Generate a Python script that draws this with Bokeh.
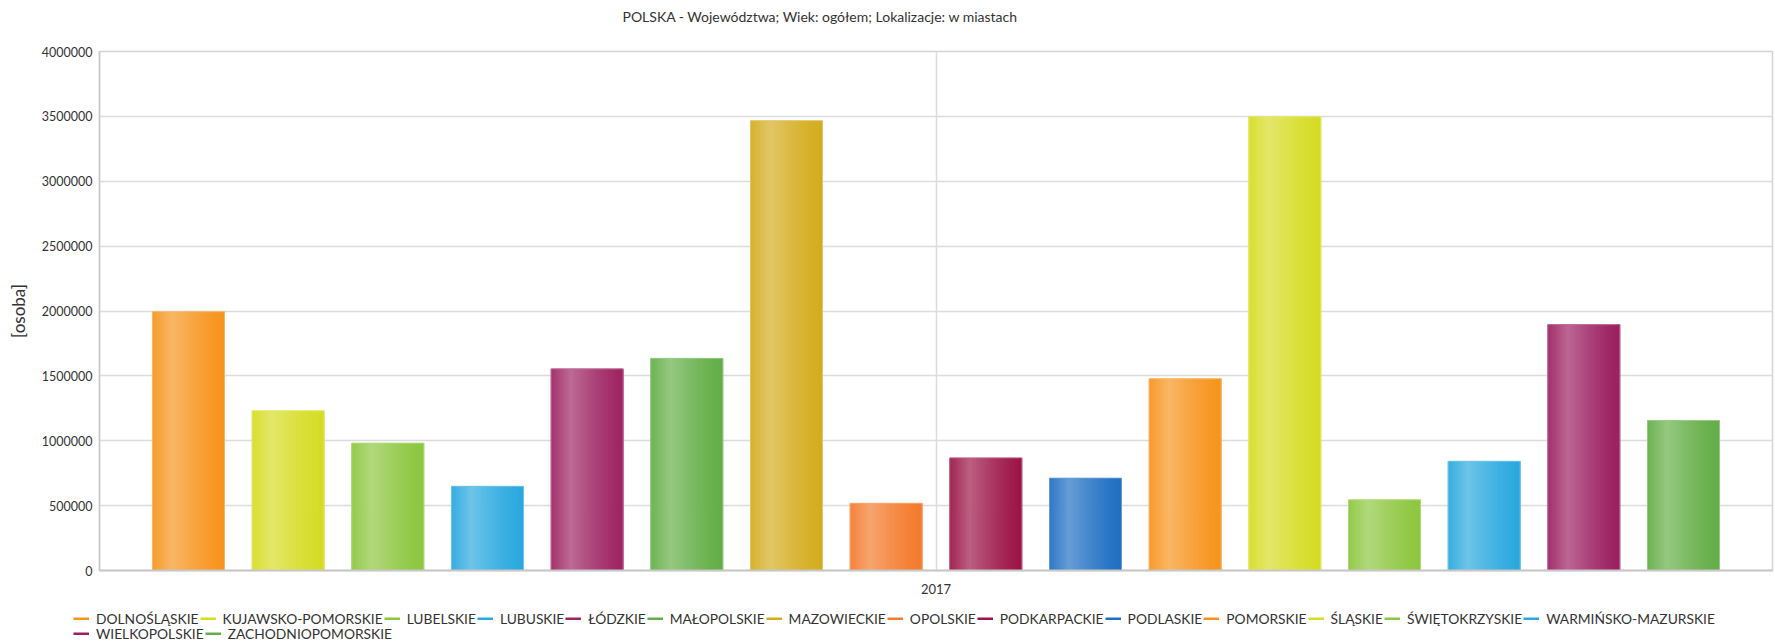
from bokeh.plotting import figure
from bokeh.layouts import column
from bokeh.models import (Range1d, FixedTicker, ColumnDataSource, Legend, LegendItem,
                          BasicTickFormatter, SingleIntervalTicker, Title)
from bokeh.embed import file_html
from bokeh.resources import INLINE

# ---------------- data ----------------
title_text = "POLSKA - Województwa; Wiek: ogółem; Lokalizacje: w miastach"
y_label = "[osoba]"
years = ["2017"]
regions = ["DOLNOŚLĄSKIE", "KUJAWSKO-POMORSKIE", "LUBELSKIE", "LUBUSKIE", "ŁÓDZKIE",
           "MAŁOPOLSKIE", "MAZOWIECKIE", "OPOLSKIE", "PODKARPACKIE", "PODLASKIE",
           "POMORSKIE", "ŚLĄSKIE", "ŚWIĘTOKRZYSKIE", "WARMIŃSKO-MAZURSKIE",
           "WIELKOPOLSKIE", "ZACHODNIOPOMORSKIE"]
values = [1995000, 1231000, 982000, 649000, 1554000,
          1635000, 3467000, 518000, 868000, 712000,
          1478000, 3497000, 545000, 842000,
          1895000, 1156000]
colors = ["#F7941D", "#D6DC23", "#8DC63F", "#29A8DF", "#9E2462",
          "#63AE46", "#D4AC1E", "#F47A2C", "#9C1446", "#1F6FC3",
          "#F7941D", "#D6DC23", "#8DC63F", "#29A8DF",
          "#9C1F61", "#63AE46"]
legend_rows = [14, 2]   # how many legend entries sit in each legend row

FONT = "Lato"
TXT = "#333333"


def mix(hexc, a):
    h = hexc.lstrip("#")
    r, g, b = (int(h[i:i + 2], 16) for i in (0, 2, 4))
    r = round(r + (255 - r) * a)
    g = round(g + (255 - g) * a)
    b = round(b + (255 - b) * a)
    return "#%02x%02x%02x" % (r, g, b)


n = len(regions)
xs = list(range(n))
center = (n - 1) / 2.0
half_span = 8.3927
BAR_W = 0.7224

p = figure(width=1775, height=600, output_backend="svg", toolbar_location=None,
           x_range=Range1d(center - half_span, center + half_span),
           y_range=Range1d(0, 4000000),
           min_border_left=99, min_border_right=3, min_border_top=50, min_border_bottom=30,
           background_fill_color="white", border_fill_color="white")
p.title = None
p.frame_align = False

# titles: spacer nearest the frame, then the real title
p.add_layout(Title(text=" ", text_font_size="9px"), "above")
p.add_layout(Title(text=title_text, text_font=FONT, text_font_size="14px",
                   text_font_style="normal", text_color=TXT, align="left", offset=523),
             "above")

# main bars
for i in range(n):
    src = ColumnDataSource(dict(x=[xs[i]], top=[values[i]]))
    p.vbar(x="x", top="top", width=BAR_W, bottom=0, source=src,
           fill_color=colors[i], line_color=None)

# gradient slices
NS = 30
sx, st, sw, sc = [], [], [], []
for i in range(n):
    for j in range(NS):
        t = (j + 0.5) / NS
        if t < 0.28:
            a = 0.06 + 0.26 * (t / 0.28)
        else:
            a = 0.32 * (1 - (t - 0.28) / 0.72) ** 1.3
        sx.append(xs[i] - BAR_W / 2 + (j + 0.5) * BAR_W / NS)
        st.append(values[i])
        sw.append(BAR_W / NS * 1.35)
        sc.append(mix(colors[i], a))
p.vbar(x="x", top="top", width="w", bottom=0, fill_color="c", line_color=None,
       source=ColumnDataSource(dict(x=sx, top=st, w=sw, c=sc)))

# outlines
p.vbar(x="x", top="top", width=BAR_W, bottom=0, fill_alpha=0, line_color="lc", line_width=1,
       line_alpha=0.9,
       source=ColumnDataSource(dict(x=xs, top=values, lc=[mix(c, 0.35) for c in colors])))

# axes
p.xaxis.ticker = FixedTicker(ticks=[center])
p.xaxis.major_label_overrides = {center: years[0]}
p.xaxis.major_tick_line_color = None
p.xaxis.minor_tick_line_color = None
p.xaxis.axis_line_color = "#c8c8c8"
p.xaxis.axis_line_width = 2
p.xaxis.major_label_text_font = FONT
p.xaxis.major_label_text_font_size = "13px"
p.xaxis.major_label_text_color = TXT
p.xaxis.major_label_standoff = 7

p.yaxis.ticker = SingleIntervalTicker(interval=500000)
p.yaxis.formatter = BasicTickFormatter(use_scientific=False)
p.yaxis.major_tick_line_color = None
p.yaxis.minor_tick_line_color = None
p.yaxis.axis_line_color = "#c8c8c8"
p.yaxis.axis_line_width = 1.5
p.yaxis.major_label_text_font = FONT
p.yaxis.major_label_text_font_size = "12.5px"
p.yaxis.major_label_text_color = TXT
p.yaxis.major_label_standoff = 1
p.yaxis.axis_label = y_label
p.yaxis.axis_label_text_font = FONT
p.yaxis.axis_label_text_font_size = "17px"
p.yaxis.axis_label_text_font_style = "normal"
p.yaxis.axis_label_text_color = TXT
p.yaxis.axis_label_standoff = 10

p.ygrid.grid_line_color = "#dcdcdc"
p.ygrid.grid_line_width = 1.5
p.xgrid.grid_line_color = "#dcdcdc"
p.xgrid.grid_line_width = 1.5
p.outline_line_color = "#d4d4d4"
p.outline_line_width = 1.5

# ---------------- legend strip ----------------
lg = figure(width=1775, height=44, output_backend="svg", toolbar_location=None,
            x_range=Range1d(0, 1), y_range=Range1d(0, 1),
            x_axis_location=None, y_axis_location=None,
            min_border_left=73, min_border_right=0, min_border_top=10, min_border_bottom=2,
            background_fill_color="white", border_fill_color="white")
lg.title = None
lg.frame_align = False
lg.grid.visible = False
lg.outline_line_color = None
items = []
for i in range(n):
    # legend handles only: a line kept outside the visible range of this strip
    r = lg.line(x=[5, 6], y=[5, 5], line_color=colors[i], line_width=3)
    items.append(LegendItem(label=regions[i], renderers=[r]))

start = 0
for row, count in enumerate(legend_rows):
    leg = Legend(items=items[start:start + count],
                 location="top_left" if row == 0 else "bottom_left",
                 orientation="horizontal",
                 label_text_font=FONT, label_text_font_size="13.8px", label_text_color=TXT,
                 glyph_width=16, glyph_height=3, label_height=14, label_standoff=7,
                 spacing=1, padding=0, margin=0, border_line_color=None,
                 background_fill_alpha=0)
    lg.add_layout(leg, "center")
    start += count

layout = column(p, lg, spacing=0)
open("out.html", "w").write(file_html(layout, INLINE))
